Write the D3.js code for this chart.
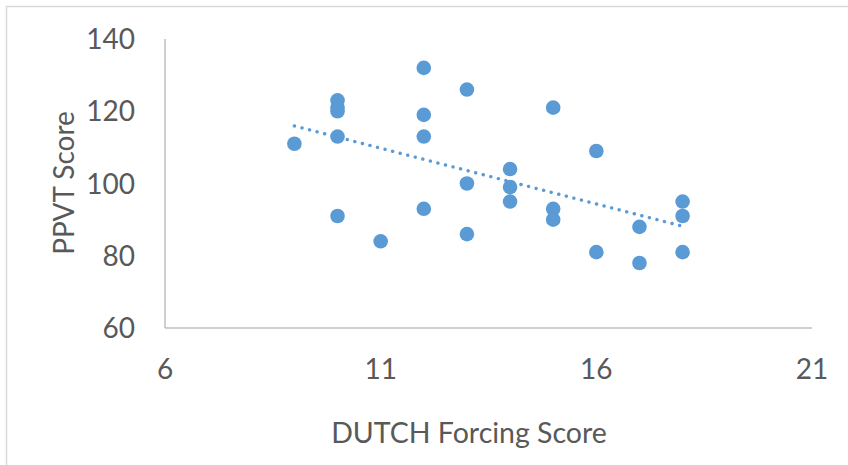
<!DOCTYPE html>
<html lang="en">

<head>
    <meta charset="UTF-8">
    <title>PPVT vs DUTCH Forcing</title>
    <script src="https://d3js.org/d3.v7.min.js"></script>
    <style>
        body {
            margin: 0;
            background: #fff;
        }

        text {
            font-family: Lato, "Open Sans", sans-serif;
            fill: #595959;
        }

        .axis-line {
            stroke: #bfbfbf;
            stroke-width: 1.5;
        }
    </style>
</head>

<body>
    <svg id="chart" width="848" height="465"></svg>
</body>
<script>
    // forcing score (x) and PPVT score (y)
    const forcing = [9, 10, 10, 10, 10, 10, 11, 12, 12, 12, 12, 13, 13, 13,
        14, 14, 14, 15, 15, 15, 16, 16, 17, 17, 18, 18, 18];
    const ppvt = [111, 123, 121, 120, 113, 91, 84, 132, 119, 113, 93, 126, 100, 86,
        104, 99, 95, 121, 93, 90, 109, 81, 88, 78, 95, 91, 81];
    const xTicks = [6, 11, 16, 21];
    const yTicks = [60, 80, 100, 120, 140];

    const svg = d3.select("#chart");
    const color = "#5b9bd5";

    // outer chart border (only top/left are visible in the window)
    svg.append("rect")
        .attr("x", 6.5).attr("y", 6.5)
        .attr("width", 900).attr("height", 500)
        .attr("fill", "none")
        .attr("stroke", "#d9d9d9")
        .attr("stroke-width", 1.5);

    const x = d3.scaleLinear().domain([6, 21]).range([165, 812]);
    const y = d3.scaleLinear().domain([60, 140]).range([328, 39]);

    // axis lines
    svg.append("line").attr("class", "axis-line")
        .attr("x1", x(6)).attr("x2", x(21))
        .attr("y1", y(60)).attr("y2", y(60));
    svg.append("line").attr("class", "axis-line")
        .attr("x1", x(6)).attr("x2", x(6))
        .attr("y1", y(60)).attr("y2", y(140));

    // tick labels
    svg.selectAll(".xt").data(xTicks).join("text")
        .attr("class", "xt")
        .attr("x", d => x(d))
        .attr("y", 379)
        .attr("text-anchor", "middle")
        .attr("font-size", 28)
        .text(d => d);

    svg.selectAll(".yt").data(yTicks).join("text")
        .attr("class", "yt")
        .attr("x", 135)
        .attr("y", d => y(d) + 10)
        .attr("text-anchor", "end")
        .attr("font-size", 28)
        .text(d => d);

    // axis titles
    svg.append("text")
        .attr("x", 469).attr("y", 443)
        .attr("text-anchor", "middle")
        .attr("font-size", 28.5)
        .text("DUTCH Forcing Score");

    svg.append("text")
        .attr("transform", "translate(74,183) rotate(-90)")
        .attr("text-anchor", "middle")
        .attr("font-size", 28)
        .text("PPVT Score");

    // linear trendline (least squares over the points)
    const n = forcing.length;
    const mx = d3.mean(forcing), my = d3.mean(ppvt);
    let sxy = 0, sxx = 0;
    for (let i = 0; i < n; i++) {
        sxy += (forcing[i] - mx) * (ppvt[i] - my);
        sxx += (forcing[i] - mx) ** 2;
    }
    const slope = sxy / sxx;
    const fit = v => my + slope * (v - mx);
    const [x0, x1] = d3.extent(forcing);

    svg.append("line")
        .attr("x1", x(x0)).attr("y1", y(fit(x0)))
        .attr("x2", x(x1)).attr("y2", y(fit(x1)))
        .attr("stroke", color)
        .attr("stroke-width", 3.4)
        .attr("stroke-linecap", "round")
        .attr("stroke-dasharray", "0.1 7.7");

    // points
    svg.selectAll(".pt").data(forcing).join("circle")
        .attr("class", "pt")
        .attr("cx", d => x(d))
        .attr("cy", (d, i) => y(ppvt[i]))
        .attr("r", 7.3)
        .attr("fill", color);
</script>

</html>
